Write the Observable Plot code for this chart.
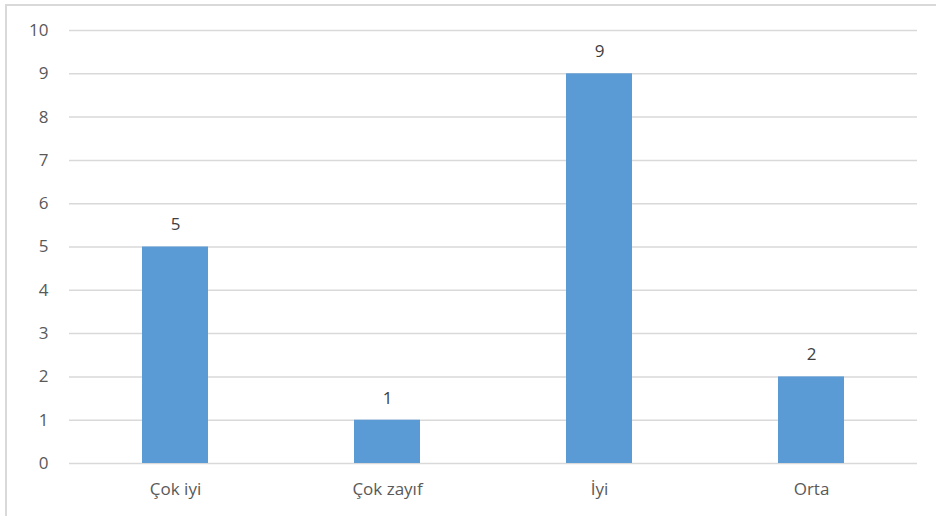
<!DOCTYPE html>
<html>
<head>
<meta charset="utf-8">
<script src="https://cdn.jsdelivr.net/npm/d3@7"></script>
<script src="https://cdn.jsdelivr.net/npm/@observablehq/plot@0.6"></script>
<style>
  html, body { margin: 0; padding: 0; background: #fff; }
  #wrap { position: relative; width: 936px; height: 516px; overflow: hidden; }
  #frame { position: absolute; left: 5px; top: 4px; width: 960px; height: 560px; border: 2px solid #d9d9d9; box-sizing: border-box; }
  #chart { position: absolute; left: 0; top: 0; }
</style>
</head>
<body>
<div id="wrap"><div id="frame"></div><div id="chart"></div></div>
<script>
const categories = ["Çok iyi", "Çok zayıf", "İyi", "Orta"];
const values = [5, 1, 9, 2];
const yTicks = [0, 1, 2, 3, 4, 5, 6, 7, 8, 9, 10];

const data = categories.map((c, i) => ({category: c, value: values[i]}));

const chart = Plot.plot({
  width: 936,
  height: 516,
  marginLeft: 69,
  marginRight: 19,
  marginTop: 30,
  marginBottom: 53,
  style: {fontFamily: "'Open Sans', sans-serif", color: "#595959", background: "transparent"},
  x: {domain: categories, padding: 0},
  y: {domain: [0, 10]},
  marks: [
    Plot.gridY(yTicks, {stroke: "#d9d9d9", strokeOpacity: 1, strokeWidth: 1.5}),
    Plot.barY(data, {x: "category", y: "value", fill: "#5b9bd5", insetLeft: 73, insetRight: 73}),
    Plot.text(data, {x: "category", y: "value", text: d => String(d.value), dy: -22, fill: "#404040", fontSize: 17}),
    Plot.axisY(yTicks, {label: null, tickSize: 0, tickPadding: 21, tickFormat: d3.format("d"), fontSize: 17, fill: "#595959"}),
    Plot.axisX({label: null, tickSize: 0, tickPadding: 19, fontSize: 17, fill: "#595959"})
  ]
});
document.getElementById("chart").appendChild(chart);
</script>
</body>
</html>
